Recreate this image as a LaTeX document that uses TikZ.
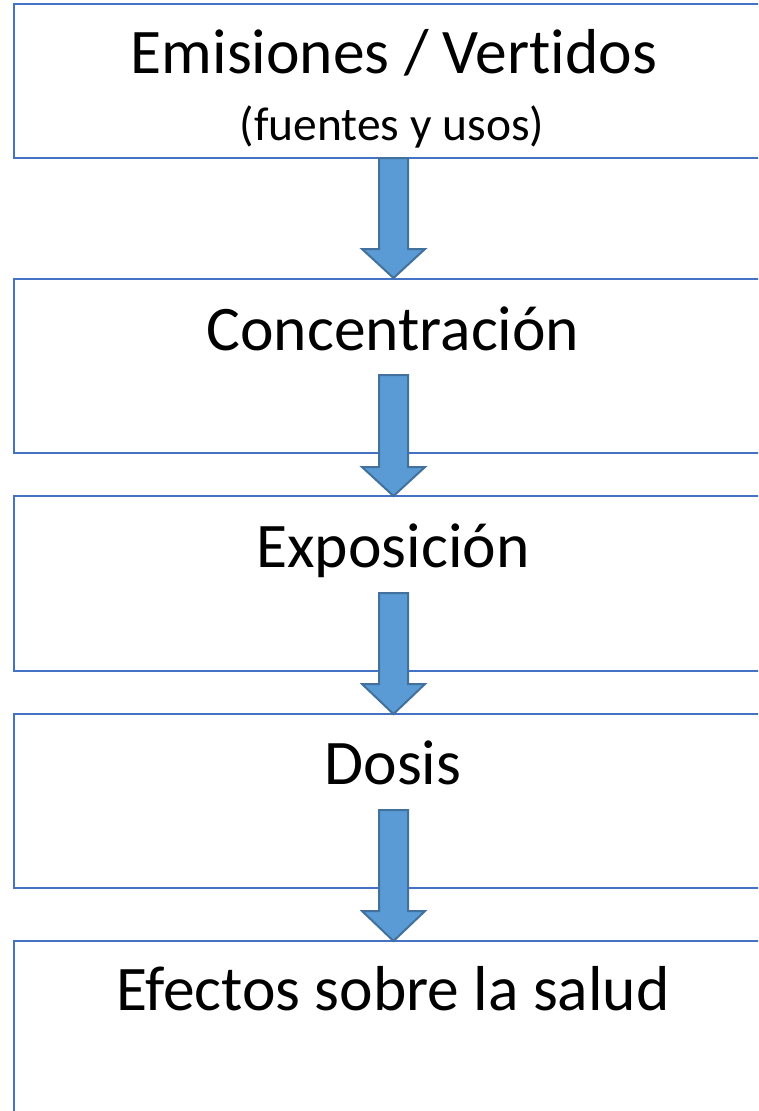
\documentclass[tikz,border=0pt]{standalone}
\usepackage{fontspec}
\setmainfont{Carlito}[Ligatures={NoCommon}]
\definecolor{boxline}{HTML}{4472C4}
\definecolor{arrfill}{HTML}{5B9BD5}
\definecolor{arrline}{HTML}{41719C}
\tikzset{
  stagebox/.style={draw=boxline, line width=2.4pt, fill=white},
  blockarrow/.style={fill=arrfill, draw=arrline, line width=2pt, line join=miter},
  bigtext/.style={anchor=base, inner sep=0pt, font=\fontsize{63.5}{70}\selectfont},
  smalltext/.style={anchor=base, inner sep=0pt, font=\fontsize{47.5}{52}\selectfont}
}
\newcommand{\blockarr}[3]{% top y, head start y, tip y
  \draw[blockarrow] (379,#1) -- (408,#1) -- (408,#2) -- (425,#2) -- (393.5,#3) -- (362,#2) -- (379,#2) -- cycle;}
\begin{document}
\begin{tikzpicture}[x=1pt,y=-1pt]
\useasboundingbox (0,0) rectangle (758,1111);
\clip (0,0) rectangle (758,1111);
\fill[white] (0,0) rectangle (758,1111);
% boxes
\draw[stagebox] (14,4) rectangle (800,158);
\draw[stagebox] (14,279) rectangle (800,453);
\draw[stagebox] (14,496) rectangle (800,671);
\draw[stagebox] (14,714) rectangle (800,888);
\draw[stagebox] (14,941) rectangle (800,1200);
% labels
\node[bigtext] (t1) at (394,73) {Emisiones / Vertidos};
\node[smalltext] (t1b) at (392,140) {(fuentes y usos)};
\node[bigtext] (t2) at (393,350) {Concentración};
\node[bigtext] (t3) at (393,567) {Exposición};
\node[bigtext] (t4) at (393,784) {Dosis};
\node[bigtext] (t5) at (393,1010) {Efectos sobre la salud};
% arrows
\blockarr{158}{249}{278}
\blockarr{375}{467}{496}
\blockarr{593}{684}{714}
\blockarr{810}{911}{941}
\end{tikzpicture}
\end{document}
